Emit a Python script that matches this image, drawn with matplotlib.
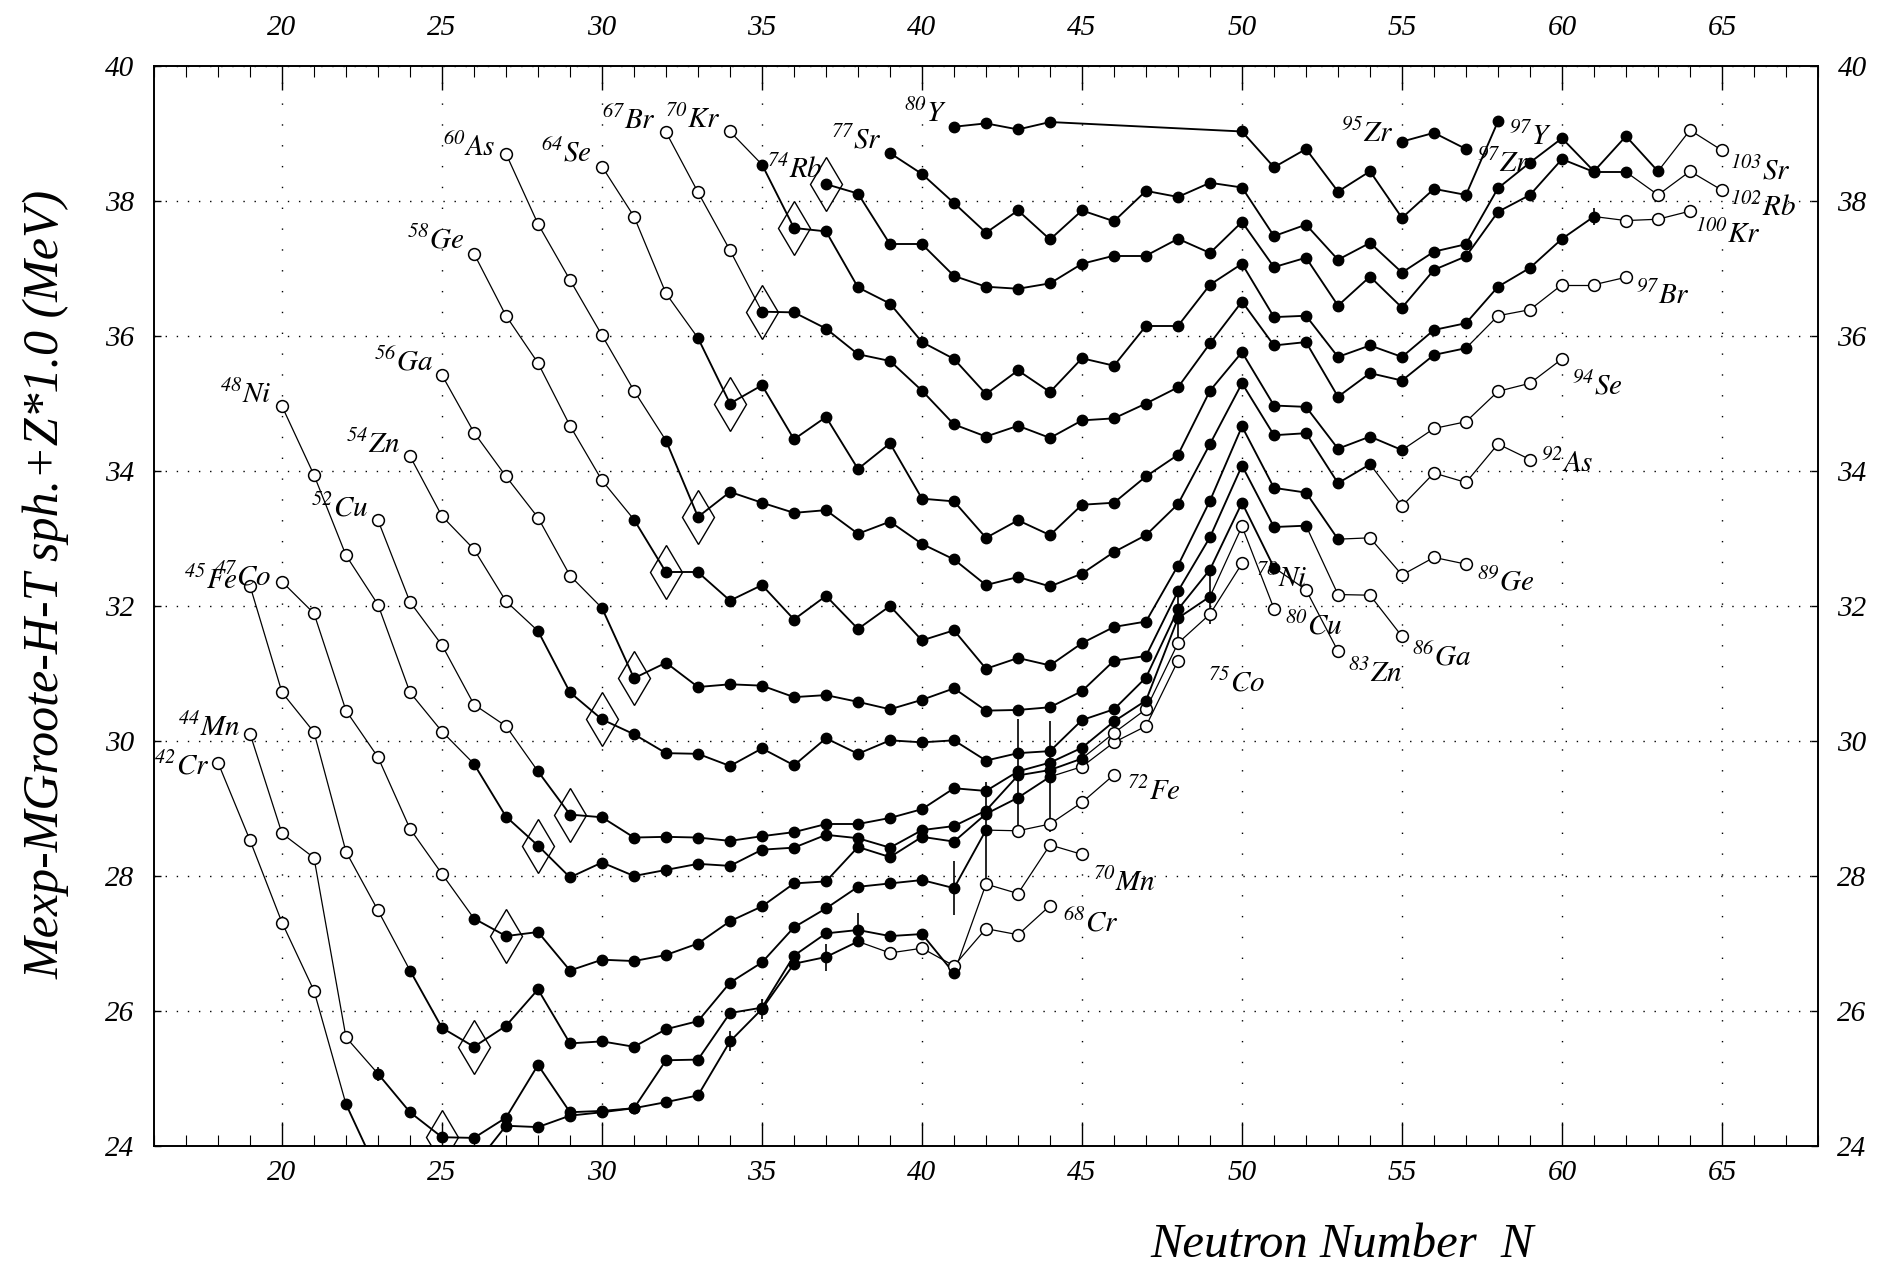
import numpy as np
import matplotlib
matplotlib.use('Agg')
import matplotlib.pyplot as plt
from matplotlib.ticker import MultipleLocator

plt.rcParams['font.family'] = ['Liberation Serif', 'DejaVu Serif']
plt.rcParams['font.style'] = 'italic'
plt.rcParams['mathtext.fontset'] = 'stix'

# isotopic chains: first N, values, N of open (extrapolated) points
cr_n0 = 18
cr_e = [29.68, 28.53, 27.31, 26.30, 24.62, 23.6, 23.1, 23.4, 23.7, 24.30, 24.28, 24.45,
        24.50, 24.56, 24.65, 24.75, 25.55, 26.03, 26.70, 26.80, 27.03, 26.86, 26.93,
        26.67, 27.22, 27.13, 27.56]
cr_open = [18, 19, 20, 21, 39, 40, 41, 42, 43, 44]

mn_n0 = 19
mn_e = [30.11, 28.63, 28.27, 25.61, 25.07, 24.50, 24.13, 24.12, 24.42, 25.20, 24.50,
        24.52, 24.56, 25.27, 25.28, 25.97, 26.05, 26.82, 27.15, 27.20, 27.11, 27.14,
        26.56, 27.88, 27.74, 28.46, 28.32]
mn_open = [19, 20, 21, 22, 42, 43, 44, 45]

fe_n0 = 19
fe_e = [32.30, 30.72, 30.13, 28.36, 27.49, 26.60, 25.75, 25.47, 25.78, 26.32, 25.52,
        25.55, 25.47, 25.73, 25.85, 26.42, 26.72, 27.24, 27.52, 27.84, 27.89, 27.94,
        27.82, 28.68, 28.67, 28.77, 29.09, 29.50]
fe_open = [19, 20, 21, 22, 23, 43, 44, 45, 46]

co_n0 = 20
co_e = [32.36, 31.89, 30.45, 29.76, 28.70, 28.03, 27.37, 27.11, 27.17, 26.60, 26.76,
        26.74, 26.83, 27.00, 27.33, 27.55, 27.89, 27.92, 28.43, 28.28, 28.58, 28.51,
        28.92, 29.16, 29.47, 29.62, 29.98, 30.22, 31.19]
co_open = [20, 21, 22, 23, 24, 25, 45, 46, 47, 48]

ni_n0 = 20
ni_e = [34.96, 33.94, 32.75, 32.02, 30.72, 30.14, 29.66, 28.88, 28.45, 27.98, 28.20,
        28.00, 28.09, 28.18, 28.15, 28.39, 28.42, 28.61, 28.56, 28.42, 28.68, 28.74,
        28.97, 29.49, 29.57, 29.74, 30.12, 30.47, 31.45, 31.88, 32.63]
ni_open = [20, 21, 22, 23, 24, 25, 46, 47, 48, 49, 50]

cu_n0 = 23
cu_e = [33.27, 32.06, 31.42, 30.54, 30.22, 29.55, 28.91, 28.87, 28.57, 28.58, 28.57,
        28.52, 28.59, 28.65, 28.77, 28.77, 28.86, 28.99, 29.30, 29.26, 29.55, 29.68,
        29.90, 30.29, 30.60, 31.82, 32.14, 33.18, 31.96]
cu_open = [23, 24, 25, 26, 27, 50, 51]

zn_n0 = 24
zn_e = [34.22, 33.33, 32.84, 32.07, 31.63, 30.72, 30.32, 30.10, 29.82, 29.81, 29.63,
        29.89, 29.64, 30.04, 29.81, 30.01, 29.98, 30.01, 29.71, 29.82, 29.85, 30.31,
        30.47, 30.94, 31.95, 32.54, 33.53, 32.57, 32.24, 31.33]
zn_open = [24, 25, 26, 27, 52, 53]

ga_n0 = 25
ga_e = [35.42, 34.57, 33.92, 33.31, 32.45, 31.97, 30.93, 31.16, 30.80, 30.84, 30.82,
        30.65, 30.68, 30.58, 30.47, 30.61, 30.78, 30.45, 30.46, 30.50, 30.74, 31.19,
        31.26, 32.22, 33.02, 34.08, 33.17, 33.19, 32.17, 32.16, 31.55]
ga_open = [25, 26, 27, 28, 29, 53, 54, 55]

ge_n0 = 26
ge_e = [37.22, 36.30, 35.60, 34.67, 33.86, 33.28, 32.50, 32.50, 32.08, 32.31, 31.80,
        32.15, 31.66, 32.00, 31.49, 31.64, 31.07, 31.23, 31.12, 31.45, 31.69, 31.77,
        32.60, 33.56, 34.66, 33.75, 33.68, 32.99, 33.01, 32.46, 32.72, 32.62]
ge_open = [26, 27, 28, 29, 30, 54, 55, 56, 57]

as_n0 = 27
as_e = [38.70, 37.66, 36.83, 36.01, 35.19, 34.45, 33.32, 33.69, 33.53, 33.38, 33.42,
        33.07, 33.25, 32.92, 32.69, 32.31, 32.43, 32.29, 32.48, 32.80, 33.05, 33.51,
        34.40, 35.30, 34.53, 34.56, 33.82, 34.10, 33.48, 33.97, 33.83, 34.40, 34.17]
as_open = [27, 28, 29, 30, 31, 55, 56, 57, 58, 59]

se_n0 = 30
se_e = [38.51, 37.77, 36.63, 35.97, 35.00, 35.27, 34.47, 34.80, 34.03, 34.41, 33.59,
        33.55, 33.01, 33.27, 33.05, 33.50, 33.53, 33.92, 34.24, 35.19, 35.76, 34.97,
        34.95, 34.33, 34.51, 34.31, 34.63, 34.73, 35.18, 35.30, 35.66]
se_open = [30, 31, 32, 56, 57, 58, 59, 60]

br_n0 = 32
br_e = [39.02, 38.13, 37.27, 36.36, 36.35, 36.11, 35.73, 35.63, 35.19, 34.69, 34.51,
        34.67, 34.49, 34.75, 34.78, 35.00, 35.24, 35.89, 36.51, 35.86, 35.91, 35.10,
        35.45, 35.34, 35.72, 35.82, 36.30, 36.39, 36.76, 36.76, 36.87]
br_open = [32, 33, 34, 58, 59, 60, 61, 62]

kr_n0 = 34
kr_e = [39.03, 38.54, 37.60, 37.55, 36.72, 36.48, 35.91, 35.66, 35.14, 35.49, 35.17,
        35.67, 35.56, 36.15, 36.15, 36.76, 37.07, 36.28, 36.30, 35.69, 35.86, 35.69,
        36.09, 36.19, 36.73, 37.01, 37.44, 37.77, 37.71, 37.73, 37.85]
kr_open = [34, 62, 63, 64]

rb_n0 = 37
rb_e = [38.25, 38.11, 37.36, 37.36, 36.89, 36.73, 36.70, 36.78, 37.07, 37.19, 37.19,
        37.44, 37.23, 37.69, 37.02, 37.16, 36.45, 36.88, 36.42, 36.98, 37.18, 37.84,
        38.09, 38.62, 38.43, 38.43, 38.09, 38.44, 38.16]
rb_open = [63, 64, 65]

sr_n0 = 39
sr_e = [38.71, 38.40, 37.97, 37.53, 37.86, 37.43, 37.86, 37.70, 38.15, 38.06, 38.27,
        38.20, 37.48, 37.65, 37.13, 37.38, 36.94, 37.25, 37.36, 38.19, 38.57, 38.93,
        38.44, 38.96, 38.44, 39.05, 38.75]
sr_open = [64, 65]

y_n = [41, 42, 43, 44, 50, 51, 52, 53, 54, 55, 56, 57, 58]
y_e = [39.10, 39.15, 39.06, 39.17, 39.03, 38.50, 38.77, 38.14, 38.44, 37.75, 38.18,
       38.09, 39.18]

zr_n0 = 55
zr_e = [38.88, 39.01, 38.77]

chains = [
    (24, np.arange(cr_n0, cr_n0 + len(cr_e)), cr_e, cr_open),
    (25, np.arange(mn_n0, mn_n0 + len(mn_e)), mn_e, mn_open),
    (26, np.arange(fe_n0, fe_n0 + len(fe_e)), fe_e, fe_open),
    (27, np.arange(co_n0, co_n0 + len(co_e)), co_e, co_open),
    (28, np.arange(ni_n0, ni_n0 + len(ni_e)), ni_e, ni_open),
    (29, np.arange(cu_n0, cu_n0 + len(cu_e)), cu_e, cu_open),
    (30, np.arange(zn_n0, zn_n0 + len(zn_e)), zn_e, zn_open),
    (31, np.arange(ga_n0, ga_n0 + len(ga_e)), ga_e, ga_open),
    (32, np.arange(ge_n0, ge_n0 + len(ge_e)), ge_e, ge_open),
    (33, np.arange(as_n0, as_n0 + len(as_e)), as_e, as_open),
    (34, np.arange(se_n0, se_n0 + len(se_e)), se_e, se_open),
    (35, np.arange(br_n0, br_n0 + len(br_e)), br_e, br_open),
    (36, np.arange(kr_n0, kr_n0 + len(kr_e)), kr_e, kr_open),
    (37, np.arange(rb_n0, rb_n0 + len(rb_e)), rb_e, rb_open),
    (38, np.arange(sr_n0, sr_n0 + len(sr_e)), sr_e, sr_open),
    (39, np.array(y_n), y_e, []),
    (40, np.arange(zr_n0, zr_n0 + len(zr_e)), zr_e, []),
]

# error bars: Z, N, half length
err_z = [25, 24, 24, 24, 25, 26, 26, 28, 27, 29, 29, 36]
err_n = [23, 34, 35, 37, 38, 41, 42, 43, 44, 48, 49, 61]
err_d = [0.10, 0.15, 0.15, 0.20, 0.25, 0.40, 0.72, 0.84, 0.82, 0.45, 0.40, 0.12]

# labels: text, N, E, alignment
labels = [
    (r'$^{42}Cr$', 17.75, 29.62, 'right'), (r'$^{44}Mn$', 18.7, 30.2, 'right'),
    (r'$^{45}Fe$', 18.62, 32.38, 'right'), (r'$^{47}Co$', 19.66, 32.43, 'right'),
    (r'$^{48}Ni$', 19.67, 35.13, 'right'), (r'$^{52}Cu$', 22.7, 33.45, 'right'),
    (r'$^{54}Zn$', 23.68, 34.39, 'right'), (r'$^{56}Ga$', 24.72, 35.62, 'right'),
    (r'$^{58}Ge$', 25.7, 37.42, 'right'), (r'$^{60}As$', 26.66, 38.8, 'right'),
    (r'$^{64}Se$', 29.68, 38.71, 'right'), (r'$^{67}Br$', 31.7, 39.2, 'right'),
    (r'$^{70}Kr$', 33.69, 39.2, 'right'), (r'$^{74}Rb$', 35.15, 38.46, 'left'),
    (r'$^{77}Sr$', 38.73, 38.9, 'right'), (r'$^{80}Y$', 40.77, 39.29, 'right'),
    (r'$^{95}Zr$', 54.72, 39.0, 'right'), (r'$^{97}Zr$', 57.35, 38.55, 'left'),
    (r'$^{97}Y$', 58.35, 38.95, 'left'), (r'$^{103}Sr$', 65.25, 38.45, 'left'),
    (r'$^{102}Rb$', 65.25, 37.9, 'left'), (r'$^{100}Kr$', 64.15, 37.5, 'left'),
    (r'$^{97}Br$', 62.3, 36.6, 'left'), (r'$^{94}Se$', 60.3, 35.25, 'left'),
    (r'$^{92}As$', 59.35, 34.1, 'left'), (r'$^{89}Ge$', 57.35, 32.35, 'left'),
    (r'$^{86}Ga$', 55.3, 31.25, 'left'), (r'$^{83}Zn$', 53.3, 31.0, 'left'),
    (r'$^{80}Cu$', 51.35, 31.7, 'left'), (r'$^{78}Ni$', 50.45, 32.4, 'left'),
    (r'$^{75}Co$', 48.95, 30.85, 'left'), (r'$^{72}Fe$', 46.4, 29.25, 'left'),
    (r'$^{70}Mn$', 45.35, 27.9, 'left'), (r'$^{68}Cr$', 44.4, 27.3, 'left'),
]

fig = plt.figure(figsize=(18.87, 12.69), dpi=100)
ax = fig.add_axes([154 / 1887, 1 - 1146 / 1269, 1664 / 1887, 1080 / 1269])
ax.set_xlim(16, 68)
ax.set_ylim(24, 40)

for z, n, e, op in chains:
    e = np.asarray(e)
    isopen = np.isin(n, op)
    for i in range(len(n) - 1):
        lw = 0.9 if (isopen[i] or isopen[i + 1]) else 1.35
        ax.plot(n[i:i + 2], e[i:i + 2], color='black', lw=lw, zorder=2)
    ax.plot(n[~isopen], e[~isopen], 'o', color='black', ms=7.5, zorder=4)
    ax.plot(n[isopen], e[isopen], 'o', mfc='white', mec='black', mew=1.1, ms=8.5, zorder=4)
    if z in n and z >= 25:
        ax.plot([z], [e[list(n).index(z)]], 'd', mfc='none', mec='black', mew=1.0,
                ms=27, zorder=3)

for z, n_, d in zip(err_z, err_n, err_d):
    for zz, n, e, op in chains:
        if zz == z:
            v = e[list(n).index(n_)]
            ax.vlines(n_, v - d, v + d, color='black', lw=1.2, zorder=3)

for txt, x, y, ha in labels:
    ax.text(x, y, txt, ha=ha, va='center', fontsize=21, zorder=5)

ax.xaxis.set_major_locator(MultipleLocator(5))
ax.xaxis.set_minor_locator(MultipleLocator(1))
ax.yaxis.set_major_locator(MultipleLocator(2))
ax.tick_params(axis='x', which='major', direction='in', length=17, width=1.0,
               top=True, labeltop=True, labelsize=21, pad=10)
ax.tick_params(axis='x', which='minor', direction='in', length=8, width=0.8, top=True)
ax.tick_params(axis='y', which='major', direction='in', length=5, width=1.0,
               right=True, labelright=True, labelsize=21, pad=14)
for t in ax.yaxis.get_major_ticks():
    t.set_pad(14)
for t in ax.xaxis.get_major_ticks():
    t.label2.set_y(1.01)

ax.grid(True, axis='x', color='black', lw=1.0, linestyle=(0, (1, 14)))
ax.grid(True, axis='y', color='black', lw=1.0, linestyle=(0, (1, 7)))
ax.set_axisbelow(True)
for s in ax.spines.values():
    s.set_linewidth(1.4)

fig.text(46 / 1887, 1 - 584 / 1269, 'Mexp-MGroote-H-T sph.+Z*1.0 (MeV)', rotation=90,
         ha='center', va='center', fontsize=36)
fig.text(0.711, 1 - 1245 / 1269, 'Neutron Number  N', ha='center', va='center',
         fontsize=35)

fig.savefig('out.png', dpi=100)
